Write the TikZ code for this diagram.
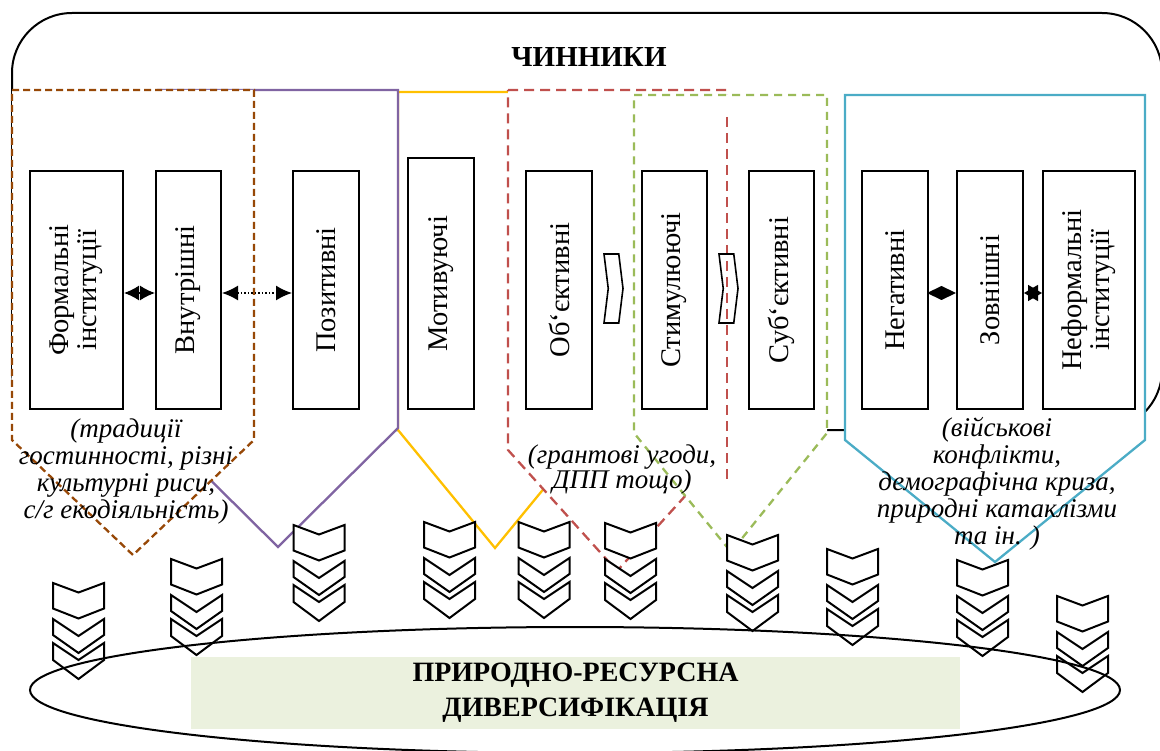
\documentclass[tikz,border=0pt]{standalone}
\usepackage{fontspec}
\setmainfont{Liberation Serif}
\usepackage{xcolor}
\usepackage{tikz}
\usetikzlibrary{arrows.meta, shapes, calc}

\definecolor{zbrown}{RGB}{151,72,7}
\definecolor{zpurple}{RGB}{128,100,162}
\definecolor{zyellow}{RGB}{255,192,0}
\definecolor{zred}{RGB}{192,80,77}
\definecolor{zgreen}{RGB}{155,187,89}
\definecolor{zcyan}{RGB}{75,172,198}
\definecolor{zfill}{RGB}{235,241,222}

\begin{document}
\begin{tikzpicture}[x=1pt, y=-1pt,
    box/.style={draw, line width=2pt, fill=white, rotate=90, inner sep=0pt, align=center,
        minimum width=238pt, font=\fontsize{28.5}{28}\selectfont},
    note/.style={inner sep=0pt, align=center, font=\fontsize{27}{27}\selectfont\itshape},
    zone/.style={line width=2.3pt, fill=white, line join=miter},
    chev/.style={draw, line width=2pt, fill=white, line join=miter},
    blockarr/.style={draw, line width=1.6pt, shape=signal, signal from=west, signal to=east,
        signal pointer angle=166, minimum width=19pt, minimum height=69pt, inner sep=0pt}]

    \useasboundingbox (0,0) rectangle (1160,751);

    \draw[line width=2pt, rounded corners=60pt] (12,13) rectangle (1162,430);
    \node[font=\fontsize{29}{29}\selectfont\bfseries] (chynnyky) at (589,57) {ЧИННИКИ};

    \draw[zone, draw=zyellow] (398,92) -- (592,92) -- (592,430) -- (495,548) -- (398,430) -- cycle;
    \draw[zone, draw=zpurple] (158,90) -- (398,90) -- (398,428) -- (278,547) -- (158,428) -- cycle;
    \draw[zone, draw=zbrown, dash pattern=on 7pt off 4pt] (12,90) -- (254,90) -- (254,440) -- (133,555) -- (12,440) -- cycle;
    \draw[zone, draw=zred, dash pattern=on 10pt off 6pt] (508,90) -- (727,90) -- (727,450) -- (617,571) -- (508,450) -- cycle;
    \draw[zone, draw=zgreen, dash pattern=on 8pt off 6pt] (634,95) -- (827,95) -- (827,433) -- (731,552) -- (634,433) -- cycle;
    \draw[zred, line width=2.3pt, dash pattern=on 10pt off 6pt] (727,117) -- (727,480);
    \draw[zone, draw=zcyan] (845,95) -- (1145,95) -- (1145,440) -- (995,562) -- (845,440) -- cycle;

    \node[box, minimum height=93pt] (formal) at (76.5,290) {Формальні\\інституції};
    \node[box, minimum height=65pt] (vnutr) at (188.5,290) {Внутрішні};
    \node[box, minimum height=66pt] (pozyt) at (326,290) {Позитивні};
    \node[box, minimum height=66pt, minimum width=251pt] (motyv) at (441,283.5) {Мотивуючі};
    \node[box, minimum height=66pt] (obj) at (559,290) {Об\symbol{96}єктивні};
    \node[box, minimum height=65pt] (stym) at (674.5,290) {Стимулюючі};
    \node[box, minimum height=65pt] (subj) at (781.5,290) {Суб\symbol{96}єктивні};
    \node[box, minimum height=66pt] (negat) at (895,290) {Негативні};
    \node[box, minimum height=66pt] (zovn) at (990,290) {Зовнішні};
    \node[box, minimum height=92pt] (neform) at (1089,290) {Неформальні\\інституції};

    \draw[line width=1.5pt, {Latex[length=15pt,width=15pt]}-{Latex[length=15pt,width=15pt]}]
        ([yshift=-3pt]formal.south) -- ([yshift=-3pt]vnutr.north);
    \draw[line width=1.5pt, dotted, {Latex[length=16pt,width=15pt]}-{Latex[length=16pt,width=15pt]}]
        ([yshift=-3pt]vnutr.south) -- ([yshift=-3pt]pozyt.north);
    \draw[line width=1.5pt, -{Diamond[length=29pt,width=14pt]}]
        ([yshift=-3pt]negat.south) -- ([yshift=-3pt]zovn.north);
    \draw[line width=1.5pt, {Triangle[length=14pt,width=16pt]}-{Triangle[length=14pt,width=16pt]}]
        ([yshift=-3pt]zovn.south) -- ([yshift=-3pt]neform.north);

    \node[blockarr] (arr1) at ($(obj.south)!0.5!(stym.north)+(-3.5,-1.5)$) {};
    \node[blockarr] (arr2) at ($(stym.south)!0.5!(subj.north)+(0.5,-1.5)$) {};

    \node[note] (tradytsii) at (126,472) {(традиції\\гостинності, різні\\культурні риси,\\с/г екодіяльність)};
    \node[note, font=\fontsize{27}{25}\selectfont\itshape] (granty) at (622,470) {(грантові угоди,\\ДПП тощо)};
    \node[note] (konflikty) at (997,484) {(військові\\конфлікти,\\демографічна криза,\\природні катаклізми\\та ін. )};

    \foreach \cx/\cy in {78.5/583, 196.5/559, 319/525, 449.5/522, 544/522, 630.5/523, 752.5/535, 852.5/549, 982.5/560, 1082.5/596}
    {
    \draw[chev] (\cx-25.5,\cy) -- (\cx,\cy+9.5) -- (\cx+25.5,\cy) -- (\cx+25.5,\cy+25.5) -- (\cx,\cy+35.5) -- (\cx-25.5,\cy+25.5) -- cycle;
    \draw[chev] (\cx-25.5,\cy+36) -- (\cx,\cy+53) -- (\cx+25.5,\cy+36) -- (\cx+25.5,\cy+52) -- (\cx,\cy+70) -- (\cx-25.5,\cy+52) -- cycle;
    \draw[chev] (\cx-25.5,\cy+60) -- (\cx,\cy+77) -- (\cx+25.5,\cy+60) -- (\cx+25.5,\cy+77) -- (\cx,\cy+96) -- (\cx-25.5,\cy+77) -- cycle;
    }

    \draw[line width=2pt] (575,690) ellipse [x radius=545, y radius=63];
    \node[fill=zfill, minimum width=769pt, minimum height=72pt, inner sep=0pt, align=center,
        font=\fontsize{28}{35}\selectfont\bfseries] (dyvers) at (575.5,693) {ПРИРОДНО-РЕСУРСНА\\ДИВЕРСИФІКАЦІЯ};
\end{tikzpicture}
\end{document}
